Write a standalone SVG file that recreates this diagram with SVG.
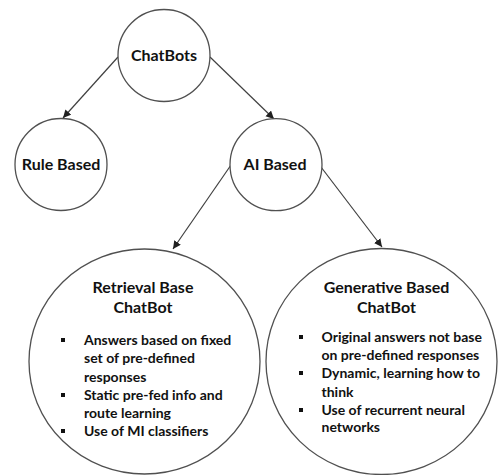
<svg xmlns="http://www.w3.org/2000/svg" width="498" height="475" viewBox="0 0 498 475">
  <style>
    .node { fill: #ffffff; stroke: #505050; stroke-width: 1.3; }
    .label { font-family: Lato, "Open Sans", "Liberation Sans", sans-serif; font-weight: bold; fill: #111111; }
    .title { font-size: 16px; text-anchor: middle; }
    .item { font-size: 14px; }
    .bullet { fill: #111111; }
    .edge { stroke: #404040; stroke-width: 1.2; fill: none; marker-end: url(#arrow); }
  </style>
  <defs>
    <marker id="arrow" markerUnits="userSpaceOnUse" markerWidth="10" markerHeight="10" refX="8" refY="4" orient="auto">
      <path d="M0,0 L8,4 L0,8 Z" fill="#202020"/>
    </marker>
  </defs>
  <rect width="498" height="475" fill="#ffffff"/>

  <g id="connectors">
    <line class="edge" x1="118" y1="57" x2="63" y2="118"/>
    <line class="edge" x1="210" y1="57" x2="274" y2="119"/>
    <line class="edge" x1="231" y1="165" x2="173" y2="249"/>
    <line class="edge" x1="321" y1="167" x2="382" y2="247"/>
  </g>

  <g id="chatbots">
    <circle class="node" cx="164" cy="55.5" r="46"/>
    <text class="label title" x="164" y="61">ChatBots</text>
  </g>

  <g id="rule-based">
    <circle class="node" cx="61" cy="164.5" r="46"/>
    <text class="label title" x="61" y="170">Rule Based</text>
  </g>

  <g id="ai-based">
    <circle class="node" cx="276" cy="164.7" r="46"/>
    <text class="label title" x="275" y="170">AI Based</text>
  </g>

  <g id="retrieval-based">
    <ellipse class="node" cx="144.5" cy="361.5" rx="115.5" ry="112.5"/>
    <text class="label title" x="143" y="293">Retrieval Base</text>
    <text class="label title" x="143" y="313">ChatBot</text>
    <rect class="bullet" x="61" y="338" width="4" height="4"/>
    <rect class="bullet" x="61" y="393" width="4" height="4"/>
    <rect class="bullet" x="61" y="429" width="4" height="4"/>
    <text class="label item" x="84" y="345">Answers based on fixed</text>
    <text class="label item" x="84" y="363">set of pre-defined</text>
    <text class="label item" x="84" y="381.5">responses</text>
    <text class="label item" x="84" y="399.5">Static pre-fed info and</text>
    <text class="label item" x="84" y="418">route learning</text>
    <text class="label item" x="84" y="436">Use of MI classifiers</text>
  </g>

  <g id="generative-based">
    <ellipse class="node" cx="381.5" cy="361.5" rx="115.5" ry="113"/>
    <text class="label title" x="386.5" y="293">Generative Based</text>
    <text class="label title" x="386.5" y="313">ChatBot</text>
    <rect class="bullet" x="299" y="335" width="4" height="4"/>
    <rect class="bullet" x="299" y="371" width="4" height="4"/>
    <rect class="bullet" x="299" y="408" width="4" height="4"/>
    <text class="label item" x="321.5" y="342">Original answers not base</text>
    <text class="label item" x="321.5" y="360">on pre-defined responses</text>
    <text class="label item" x="321.5" y="378">Dynamic, learning how to</text>
    <text class="label item" x="321.5" y="396.5">think</text>
    <text class="label item" x="321.5" y="414.5">Use of recurrent neural</text>
    <text class="label item" x="321.5" y="432">networks</text>
  </g>
</svg>
